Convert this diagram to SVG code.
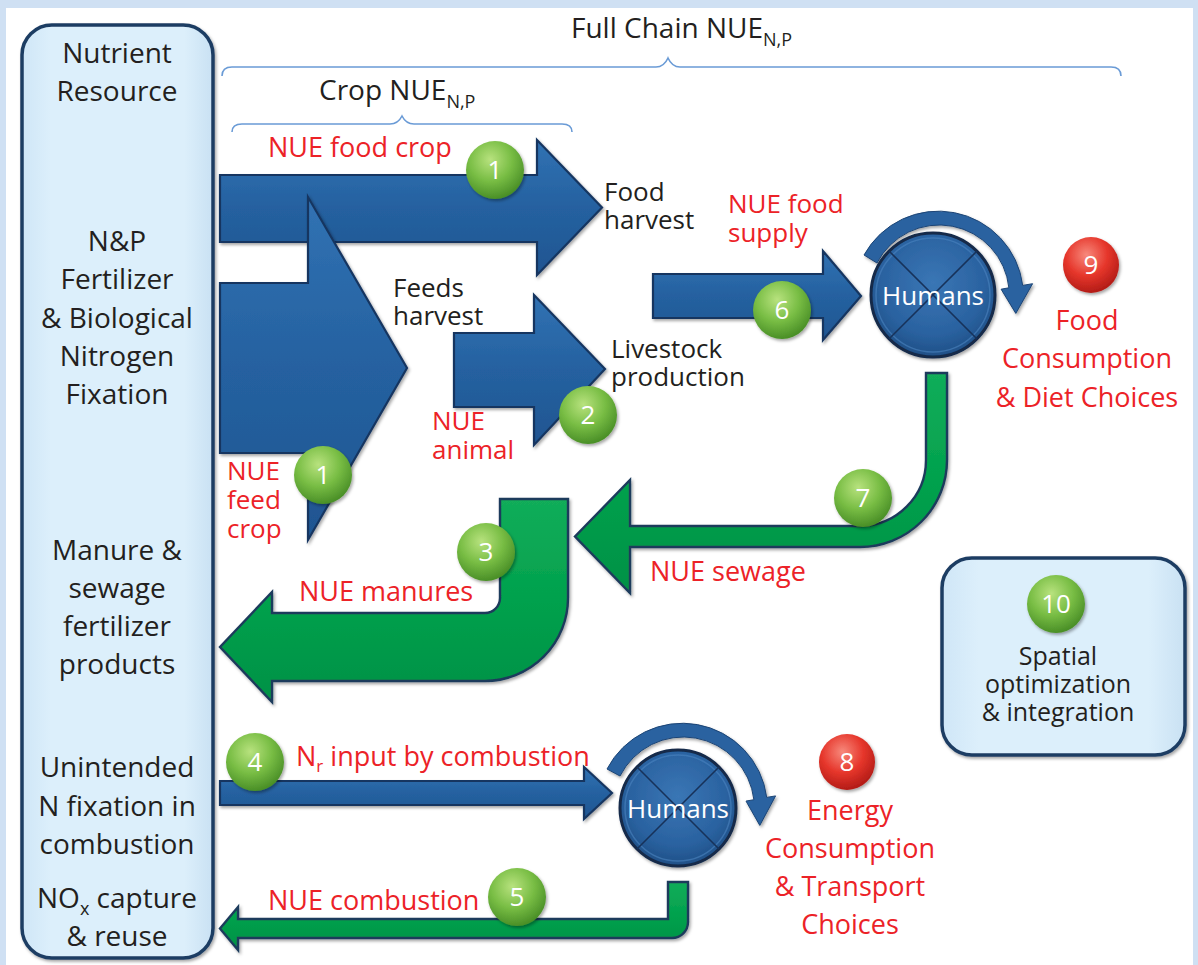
<svg xmlns="http://www.w3.org/2000/svg" width="1198" height="965" viewBox="0 0 1198 965">
  <defs>
    <style>
      .blk { font-family: "Open Sans", "DejaVu Sans", sans-serif; fill: #231f20; }
      .red { font-family: "Open Sans", "DejaVu Sans", sans-serif; fill: #ec2227; font-size: 27px; }
      .wht { font-family: "Open Sans", "DejaVu Sans", sans-serif; fill: #ffffff; }
      .col { font-size: 28px; text-anchor: middle; }
      .lbl { font-size: 26px; }
      .stk { font-size: 26px; }
      .num { font-size: 26px; text-anchor: middle; }
      .brace { fill: none; stroke: #6a9bd6; stroke-width: 1.6; }
      .barrow { fill: url(#blueG); stroke: #163661; stroke-width: 2.2; stroke-linejoin: miter; filter: url(#sh); }
      .garrow { fill: url(#greenG); stroke: #1d3b5c; stroke-width: 2.4; filter: url(#sh); }
      .loop { fill: #2a62a0; stroke: #1b4475; stroke-width: 1; filter: url(#sh); }
      .panel { fill: url(#panelG); stroke: #1f3d63; stroke-width: 3.5; filter: url(#sh); }
      .hub { fill: url(#hubG); stroke: #13294a; stroke-width: 3; filter: url(#sh); }
      .hubx { stroke: #17325a; stroke-width: 1.6; }
      .hubrim { fill: none; stroke: #4b84c0; stroke-width: 1.5; opacity: 0.6; }
      .gball { fill: url(#gBall); filter: url(#sh); }
      .rball { fill: url(#rBall); filter: url(#sh); }
    </style>
    <filter id="sh" x="-15%" y="-15%" width="140%" height="140%">
      <feDropShadow dx="1.5" dy="2" stdDeviation="1.6" flood-color="#000000" flood-opacity="0.35"/>
    </filter>
    <linearGradient id="blueG" x1="0" y1="0" x2="0" y2="1">
      <stop offset="0" stop-color="#3172b3"/>
      <stop offset="0.5" stop-color="#2561a0"/>
      <stop offset="1" stop-color="#1f5591"/>
    </linearGradient>
    <linearGradient id="greenG" x1="0" y1="0" x2="0" y2="1">
      <stop offset="0" stop-color="#12ad5a"/>
      <stop offset="0.5" stop-color="#02a14d"/>
      <stop offset="1" stop-color="#039145"/>
    </linearGradient>
    <linearGradient id="panelG" x1="0" y1="0" x2="1" y2="0">
      <stop offset="0" stop-color="#cfe6f7"/>
      <stop offset="0.15" stop-color="#dcefFb"/>
      <stop offset="0.85" stop-color="#dcefFb"/>
      <stop offset="1" stop-color="#c9e1f3"/>
    </linearGradient>
    <radialGradient id="hubG" cx="50%" cy="40%" r="60%">
      <stop offset="0" stop-color="#3a76b5"/>
      <stop offset="0.7" stop-color="#2a62a0"/>
      <stop offset="1" stop-color="#1f4f86"/>
    </radialGradient>
    <radialGradient id="gBall" cx="42%" cy="32%" r="68%">
      <stop offset="0" stop-color="#b8e27e"/>
      <stop offset="0.55" stop-color="#78bd44"/>
      <stop offset="1" stop-color="#4a8f27"/>
    </radialGradient>
    <radialGradient id="rBall" cx="42%" cy="32%" r="68%">
      <stop offset="0" stop-color="#f7897c"/>
      <stop offset="0.55" stop-color="#e6362b"/>
      <stop offset="1" stop-color="#b31c17"/>
    </radialGradient>
  </defs>

  <!-- frame -->
  <rect x="0" y="0" width="1198" height="965" fill="#cfe0f3"/>
  <rect x="6" y="8" width="1187" height="957" fill="#ffffff"/>

  <!-- scope braces -->
  <g id="full-chain">
    <path class="brace" d="M222 76 Q222 67 232 67 L656 67 Q664 67 668 58 Q672 67 680 67 L1111 67 Q1121 67 1121 76"/>
    <text class="blk" x="571" y="38" font-size="28">Full Chain NUE<tspan font-size="18" dy="8">N,P</tspan></text>
  </g>
  <g id="crop-scope">
    <path class="brace" d="M232 132 Q232 124 242 124 L390 124 Q398 124 402 116 Q406 124 414 124 L562 124 Q572 124 572 132"/>
    <text class="blk" x="319" y="100" font-size="28">Crop NUE<tspan font-size="18" dy="8">N,P</tspan></text>
  </g>

  <!-- nutrient resource column -->
  <g id="nutrient-resource">
    <rect class="panel" x="22" y="25" width="191" height="933" rx="30" ry="30"/>
    <text class="blk col" x="117" y="63">Nutrient</text>
    <text class="blk col" x="117" y="101">Resource</text>
    <text class="blk col" x="117" y="251">N&amp;P</text>
    <text class="blk col" x="117" y="289">Fertilizer</text>
    <text class="blk col" x="117" y="328">&amp; Biological</text>
    <text class="blk col" x="117" y="366">Nitrogen</text>
    <text class="blk col" x="117" y="404">Fixation</text>
    <text class="blk col" x="117" y="560">Manure &amp;</text>
    <text class="blk col" x="117" y="598">sewage</text>
    <text class="blk col" x="117" y="636">fertilizer</text>
    <text class="blk col" x="117" y="674">products</text>
    <text class="blk col" x="117" y="777">Unintended</text>
    <text class="blk col" x="117" y="816">N fixation in</text>
    <text class="blk col" x="117" y="854">combustion</text>
    <text class="blk col" x="117" y="908">NO<tspan font-size="18" dy="7">x</tspan><tspan dy="-7"> capture</tspan></text>
    <text class="blk col" x="117" y="946">&amp; reuse</text>
  </g>

  <!-- flows -->
  <g id="connectors">
    <!-- food crop -->
    <polygon class="barrow" points="220,175 537,175 537,140 602,207.5 537,275 537,242 220,242"/>
    <!-- feed crop -->
    <polygon class="barrow" points="220,283 308,283 308,197 407,368 308,540 308,453 220,453"/>
    <!-- feeds to livestock -->
    <polygon class="barrow" points="454,333 534,333 534,295 605,369 534,445 534,407 454,407"/>
    <!-- food supply to humans -->
    <polygon class="barrow" points="653,274 823,274 823,251 861,296 823,340 823,318 653,318"/>
    <!-- combustion input -->
    <polygon class="barrow" points="220,781 584,781 584,767 612,793 584,819 584,805 220,805"/>

    <!-- sewage return -->
    <path class="garrow" d="M926 373 L947 373 L947 460 A87 87 0 0 1 860 547 L630 547 L630 593 L575 536.5 L630 480 L630 526 L860 526 A66 66 0 0 0 926 460 Z"/>
    <!-- manures return -->
    <path class="garrow" d="M500 499 L568 499 L568 598 A83 83 0 0 1 485 681 L272 681 L272 702 L220 647 L272 592 L272 613 L485 613 A15 15 0 0 0 500 598 Z"/>
    <!-- NOx return -->
    <path class="garrow" d="M668 882 L688 882 L688 922 A16 16 0 0 1 672 938 L238 938 L238 950 L220 928.5 L238 907 L238 919 L668 919 Z"/>

    <!-- consumption loops -->
    <path class="loop" d="M864 255 A85 85 0 0 1 1022.7 285.4 L1032.6 283.7 L1015.8 313.4 L1001.1 289.2 L1008.9 287.8 A70 70 0 0 0 877 263 Z"/>
    <path class="loop" d="M607 769 A85 85 0 0 1 766.7 797.4 L775.6 795.9 L759.8 825.4 L746 801.1 L753.9 799.7 A71 71 0 0 0 620 776 Z"/>
  </g>

  <!-- humans (food) -->
  <g id="humans-food">
    <circle class="hub" cx="933" cy="295" r="62"/>
    <circle class="hubrim" cx="933" cy="295" r="57"/>
    <line class="hubx" x1="889.2" y1="251.2" x2="976.8" y2="338.8"/>
    <line class="hubx" x1="976.8" y1="251.2" x2="889.2" y2="338.8"/>
    <text class="wht" x="933" y="305" font-size="26" text-anchor="middle">Humans</text>
  </g>

  <!-- humans (energy) -->
  <g id="humans-energy">
    <circle class="hub" cx="678" cy="808" r="58"/>
    <circle class="hubrim" cx="678" cy="808" r="53"/>
    <line class="hubx" x1="637" y1="767" x2="719" y2="849"/>
    <line class="hubx" x1="719" y1="767" x2="637" y2="849"/>
    <text class="wht" x="678" y="818" font-size="26" text-anchor="middle">Humans</text>
  </g>

  <!-- stage labels -->
  <g id="food-harvest">
    <text class="blk lbl" x="604" y="201">Food</text>
    <text class="blk lbl" x="604" y="229">harvest</text>
  </g>
  <g id="feeds-harvest">
    <text class="blk lbl" x="393" y="297">Feeds</text>
    <text class="blk lbl" x="393" y="325">harvest</text>
  </g>
  <g id="livestock-production">
    <text class="blk lbl" x="611" y="358">Livestock</text>
    <text class="blk lbl" x="611" y="386">production</text>
  </g>

  <!-- efficiency labels -->
  <g id="efficiency-labels">
    <text class="red" x="268" y="157" font-size="26">NUE food crop</text>
    <text class="red stk" x="728" y="213">NUE food</text>
    <text class="red stk" x="728" y="242">supply</text>
    <text class="red stk" x="432" y="430">NUE</text>
    <text class="red stk" x="432" y="459">animal</text>
    <text class="red stk" x="227" y="480">NUE</text>
    <text class="red stk" x="227" y="509">feed</text>
    <text class="red stk" x="227" y="538">crop</text>
    <text class="red" x="299" y="601">NUE manures</text>
    <text class="red" x="650" y="581">NUE sewage</text>
    <text class="red" x="296" y="766">N<tspan font-size="17" dy="6">r</tspan><tspan dy="-6"> input by combustion</tspan></text>
    <text class="red" x="268" y="910">NUE combustion</text>
  </g>

  <g id="food-consumption">
    <circle class="rball" cx="1091" cy="265" r="28"/>
    <text class="wht num" x="1091" y="274">9</text>
    <text class="red" x="1087" y="330" text-anchor="middle">Food</text>
    <text class="red" x="1087" y="368" text-anchor="middle">Consumption</text>
    <text class="red" x="1087" y="407" text-anchor="middle">&amp; Diet Choices</text>
  </g>

  <g id="energy-consumption">
    <circle class="rball" cx="847" cy="762" r="28"/>
    <text class="wht num" x="847" y="771">8</text>
    <text class="red" x="850" y="820" text-anchor="middle">Energy</text>
    <text class="red" x="850" y="858" text-anchor="middle">Consumption</text>
    <text class="red" x="850" y="896" text-anchor="middle">&amp; Transport</text>
    <text class="red" x="850" y="934" text-anchor="middle">Choices</text>
  </g>

  <g id="spatial">
    <rect class="panel" x="942" y="558" width="243" height="197" rx="30" ry="30"/>
    <circle class="gball" cx="1056" cy="604" r="29"/>
    <text class="wht num" x="1056" y="613">10</text>
    <text class="blk" x="1058" y="665" font-size="25" text-anchor="middle">Spatial</text>
    <text class="blk" x="1058" y="693" font-size="25" text-anchor="middle">optimization</text>
    <text class="blk" x="1058" y="721" font-size="25" text-anchor="middle">&amp; integration</text>
  </g>

  <!-- step badges -->
  <g id="badges">
    <circle class="gball" cx="495" cy="170" r="29"/>
    <text class="wht num" x="495" y="179">1</text>
    <circle class="gball" cx="323" cy="475" r="29"/>
    <text class="wht num" x="323" y="484">1</text>
    <circle class="gball" cx="588" cy="415" r="29"/>
    <text class="wht num" x="588" y="424">2</text>
    <circle class="gball" cx="486" cy="552" r="29"/>
    <text class="wht num" x="486" y="561">3</text>
    <circle class="gball" cx="255" cy="762" r="29"/>
    <text class="wht num" x="255" y="771">4</text>
    <circle class="gball" cx="517" cy="897" r="29"/>
    <text class="wht num" x="517" y="906">5</text>
    <circle class="gball" cx="782" cy="310" r="29"/>
    <text class="wht num" x="782" y="319">6</text>
    <circle class="gball" cx="863" cy="498" r="29"/>
    <text class="wht num" x="863" y="507">7</text>
  </g>
</svg>
